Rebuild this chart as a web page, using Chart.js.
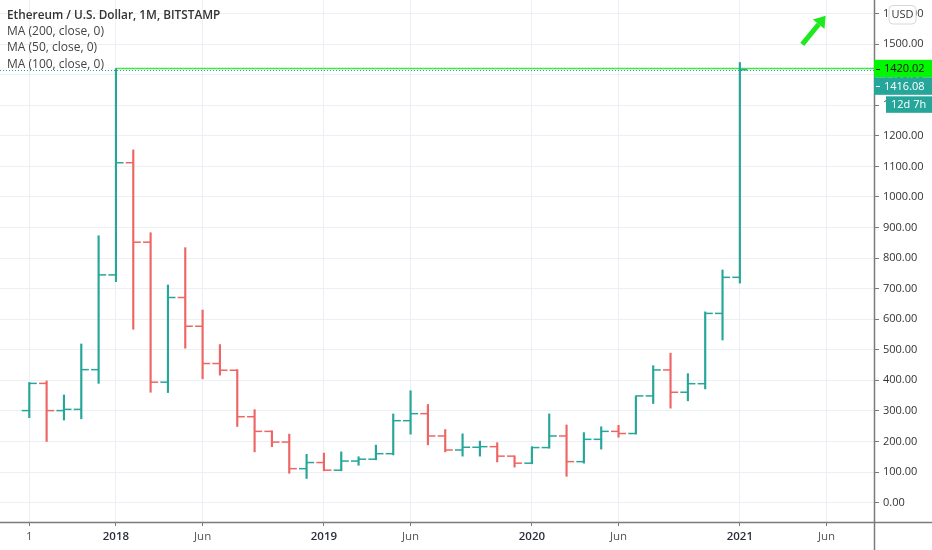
<!DOCTYPE html>
<html>
<head>
<meta charset="utf-8">
<script src="https://cdn.jsdelivr.net/npm/chart.js@4.4.0/dist/chart.umd.min.js"></script>
<style>
  body { margin: 0; background: #fff; overflow: hidden; }
  #wrap { position: relative; width: 932px; height: 550px; }
  #legend { position: absolute; left: 7px; top: 6px; font-family: 'Open Sans', sans-serif; font-size: 12px; color: #444; line-height: 16.5px; pointer-events: none; }
  #legend .title { font-weight: 600; color: #333; font-size: 11.8px; }
</style>
</head>
<body>
<div id="wrap">
  <canvas id="chart" width="932" height="550"></canvas>
  <div id="legend">
    <div class="title">Ethereum / U.S. Dollar, 1M, BITSTAMP</div>
    <div>MA (200, close, 0)</div>
    <div>MA (50, close, 0)</div>
    <div>MA (100, close, 0)</div>
  </div>
</div>
<script>
// monthly bars, Aug 2017 .. Jan 2021
const months = [
  '2017-08', '2017-09', '2017-10', '2017-11', '2017-12',
  '2018-01', '2018-02', '2018-03', '2018-04', '2018-05', '2018-06',
  '2018-07', '2018-08', '2018-09', '2018-10', '2018-11', '2018-12',
  '2019-01', '2019-02', '2019-03', '2019-04', '2019-05', '2019-06',
  '2019-07', '2019-08', '2019-09', '2019-10', '2019-11', '2019-12',
  '2020-01', '2020-02', '2020-03', '2020-04', '2020-05', '2020-06',
  '2020-07', '2020-08', '2020-09', '2020-10', '2020-11', '2020-12',
  '2021-01'
];
const opens = [
  301, 390, 301, 305, 435,
  745, 1112, 852, 394, 671, 577,
  455, 433, 281, 233, 198, 111,
  131, 106, 136, 142, 160, 268,
  291, 218, 172, 181, 183, 152,
  129, 180, 218, 134, 207, 233,
  226, 349, 434, 361, 389, 619,
  737
];
const highs = [
  393, 398, 352, 519, 873,
  1420.02, 1154, 883, 712, 834, 630,
  517, 435, 304, 235, 224, 158,
  162, 166, 150, 188, 290, 366,
  321, 239, 225, 201, 196, 153,
  183, 290, 254, 229, 248, 253,
  349, 448, 489, 422, 624, 761,
  1440
];
const lows = [
  278, 200, 270, 274, 390,
  723, 567, 361, 360, 505, 405,
  417, 249, 166, 183, 96, 79,
  104, 104, 122, 140, 156, 224,
  189, 166, 152, 152, 133, 116,
  127, 178, 86, 129, 175, 214,
  224, 324, 309, 333, 372, 532,
  718
];
const closes = [
  390, 301, 305, 435, 745,
  1112, 852, 394, 671, 577, 455,
  433, 281, 233, 198, 111, 131,
  106, 136, 142, 160, 268, 291,
  218, 172, 181, 183, 152, 129,
  180, 218, 134, 207, 233, 226,
  349, 434, 361, 389, 619, 737,
  1416.08
];

const xTickMonths = ['2017-08', '2018-01', '2018-06', '2019-01', '2019-06', '2020-01', '2020-06', '2021-01', '2021-06'];
const xTickLabels = ['1', '2018', 'Jun', '2019', 'Jun', '2020', 'Jun', '2021', 'Jun'];
const yTicks = [0, 100, 200, 300, 400, 500, 600, 700, 800, 900, 1000, 1100, 1200, 1300, 1400, 1500, 1600];

const athValue = 1420.02;
const athMonth = '2018-01';
const lastPrice = 1416.08;
const countdown = '12d 7h';
// hand drawn arrow, in (month index, price) space
const arrowFrom = [44.6, 1499];
const arrowTo = [45.95, 1593];

const UP = '#26a69a';
const DOWN = '#ee6663';
const GRID = '#eceff4';
const FONT = "'Open Sans', sans-serif";

const monthIndex = (m) => {
  const [y0, m0] = months[0].split('-').map(Number);
  const [y, mo] = m.split('-').map(Number);
  return (y - y0) * 12 + (mo - m0);
};

const colors = closes.map((c, i) => c >= opens[i] ? UP : DOWN);
const TICK_OFF = 0.22;   // open/close tick offset, in months

const overlays = {
  id: 'overlays',
  beforeDatasetsDraw(chart) {
    const { ctx, chartArea: a, scales: { x, y } } = chart;
    ctx.save();
    // current price line
    const py = Math.round(y.getPixelForValue(lastPrice)) + 0.5;
    ctx.strokeStyle = UP;
    ctx.lineWidth = 1;
    ctx.setLineDash([1, 2]);
    ctx.beginPath();
    ctx.moveTo(a.left, py);
    ctx.lineTo(a.right, py);
    ctx.stroke();
    // ATH horizontal line
    const ay = y.getPixelForValue(athValue);
    ctx.setLineDash([]);
    ctx.strokeStyle = '#3ee83e';
    ctx.lineWidth = 1.5;
    ctx.beginPath();
    ctx.moveTo(x.getPixelForValue(monthIndex(athMonth)), ay);
    ctx.lineTo(a.right, ay);
    ctx.stroke();
    ctx.restore();
  },
  afterDraw(chart) {
    const { ctx, chartArea: a, scales: { x, y }, width, height } = chart;
    ctx.save();
    // axis lines
    ctx.strokeStyle = '#7b7b7b';
    ctx.lineWidth = 1.5;
    ctx.beginPath();
    ctx.moveTo(0, a.bottom + 0.5);
    ctx.lineTo(width, a.bottom + 0.5);
    ctx.moveTo(a.right + 0.5, 0);
    ctx.lineTo(a.right + 0.5, height);
    ctx.stroke();

    // price badges
    const badge = (x0, top, h, bg, fg, text, tick) => {
      ctx.fillStyle = bg;
      ctx.fillRect(x0, top, width - x0, h);
      ctx.fillStyle = fg;
      ctx.font = '11px ' + FONT;
      ctx.textBaseline = 'middle';
      ctx.textAlign = 'left';
      ctx.fillText(text, x0 + (tick ? 10 : 5), top + h / 2 + 0.5);
      if (tick) {
        ctx.fillRect(a.right + 2, Math.round(top + h / 2), 4, 1);
      }
    };
    const bh = 17.5;
    const athY = y.getPixelForValue(athValue);
    const top1 = athY - bh / 2;
    badge(a.right, top1, bh, '#00f700', '#111', athValue.toFixed(2), true);
    badge(a.right, top1 + bh, bh, UP, '#fff', lastPrice.toFixed(2), true);
    badge(a.right + 12, top1 + bh * 2 + 1.5, 16.5, UP, '#fff', countdown, false);

    // USD box
    const ux = a.right + 15, uy = 5.5, uw = 27, uh = 18.5;
    ctx.fillStyle = '#fff';
    ctx.strokeStyle = '#d6d8de';
    ctx.lineWidth = 1;
    ctx.beginPath();
    ctx.roundRect(ux, uy, uw, uh, 4);
    ctx.fill();
    ctx.stroke();
    ctx.fillStyle = '#333';
    ctx.font = '11px ' + FONT;
    ctx.textAlign = 'center';
    ctx.fillText('USD', ux + uw / 2, uy + uh / 2 + 0.5);

    // green arrow
    const x1 = x.getPixelForValue(arrowFrom[0]), y1 = y.getPixelForValue(arrowFrom[1]);
    const x2 = x.getPixelForValue(arrowTo[0]), y2 = y.getPixelForValue(arrowTo[1]);
    const ang = Math.atan2(y2 - y1, x2 - x1);
    const headLen = 11, headW = 7.5;
    const bx = x2 - Math.cos(ang) * headLen, by = y2 - Math.sin(ang) * headLen;
    ctx.strokeStyle = '#1ee81e';
    ctx.fillStyle = '#1ee81e';
    ctx.lineWidth = 5;
    ctx.beginPath();
    ctx.moveTo(x1, y1);
    ctx.lineTo(bx, by);
    ctx.stroke();
    ctx.beginPath();
    ctx.moveTo(x2, y2);
    ctx.lineTo(bx + Math.sin(ang) * headW, by - Math.cos(ang) * headW);
    ctx.lineTo(bx - Math.sin(ang) * headW, by + Math.cos(ang) * headW);
    ctx.closePath();
    ctx.fill();
    ctx.restore();
  }
};

const idx = months.map((m) => monthIndex(m));

new Chart(document.getElementById('chart'), {
  type: 'bar',
  data: {
    datasets: [
      {
        type: 'bar',
        data: idx.map((i, k) => ({ x: i, y: [lows[k], highs[k]] })),
        backgroundColor: colors,
        barThickness: 1.5,
        borderWidth: 0,
        grouped: false
      },
      {
        type: 'scatter',
        data: idx.map((i, k) => ({ x: i - TICK_OFF, y: opens[k] })),
        pointStyle: 'line',
        pointRadius: 3.75,
        borderWidth: 1.5,
        borderColor: colors,
        showLine: false
      },
      {
        type: 'scatter',
        data: idx.map((i, k) => ({ x: i + TICK_OFF, y: closes[k] })),
        pointStyle: 'line',
        pointRadius: 3.75,
        borderWidth: 1.5,
        borderColor: colors,
        showLine: false
      }
    ]
  },
  options: {
    responsive: false,
    animation: false,
    events: [],
    layout: { padding: 0, autoPadding: false },
    plugins: { legend: { display: false }, tooltip: { enabled: false } },
    scales: {
      x: {
        type: 'linear',
        offset: false,
        min: -1.69,
        max: 48.74,
        afterBuildTicks: (s) => { s.ticks = xTickMonths.map((m) => ({ value: monthIndex(m) })); },
        afterFit: (s) => { s.height = 28; s.paddingLeft = 0; s.paddingRight = 0; },
        grid: { offset: false, color: GRID, tickColor: '#7b7b7b', tickLength: 4, lineWidth: 1 },
        border: { display: false },
        ticks: {
          padding: 4,
          maxRotation: 0,
          autoSkip: false,
          callback: (v, k) => xTickLabels[k],
          color: (c) => /^\d{4}$/.test(xTickLabels[c.index]) ? '#2a2e39' : '#555',
          font: (c) => ({ family: FONT, size: 11.5, weight: /^\d{4}$/.test(xTickLabels[c.index]) ? '600' : 'normal' })
        }
      },
      y: {
        position: 'right',
        min: -63.5,
        max: 1644.4,
        afterBuildTicks: (s) => { s.ticks = yTicks.map((v) => ({ value: v })); },
        afterFit: (s) => { s.width = 58; s.paddingTop = 0; s.paddingBottom = 0; },
        grid: { color: GRID, tickColor: '#7b7b7b', tickLength: 5, lineWidth: 1 },
        border: { display: false },
        ticks: {
          padding: 4,
          color: '#333',
          font: { family: FONT, size: 11 },
          callback: (v) => v.toFixed(2)
        }
      }
    }
  },
  plugins: [overlays]
});
</script>
</body>
</html>
